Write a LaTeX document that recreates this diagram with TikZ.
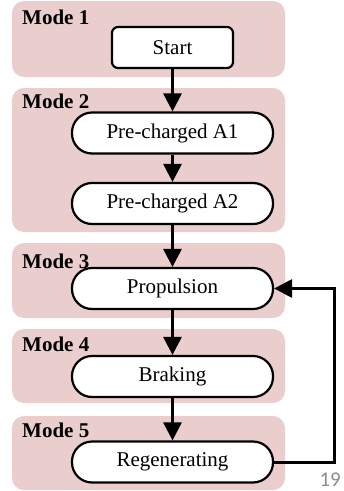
\documentclass[tikz,border=0pt]{standalone}
\usepackage{fontspec}
\setmainfont{Liberation Serif}
\newfontfamily\pagefont{Carlito}
\usepackage{tikz}
\usetikzlibrary{arrows.meta}
\definecolor{modepink}{RGB}{234,205,205}
\definecolor{pagegray}{RGB}{140,140,140}

\begin{document}
\begin{tikzpicture}[x=1pt,y=-1pt,every node/.style = {font=\fontsize{21}{25}\selectfont},
					>={Triangle[length=18pt,width=18pt]}]

\tikzstyle{mode_box} = [fill=modepink, rounded corners=12pt]
\tikzstyle{mode_label} = [anchor=base west, inner sep=0pt, font=\fontsize{21}{25}\selectfont\bfseries]
\tikzstyle{state} = [draw, line width=2.2pt, fill=white, minimum height=41pt, minimum width=201pt, rounded corners=20pt, inner sep=0pt]
\tikzstyle{flow} = [->, line width=3pt]

\useasboundingbox (0,0) rectangle (344,491);

% mode panels
\fill[mode_box] (12,1) rectangle (285,77);
\fill[mode_box] (12,88) rectangle (285,232);
\fill[mode_box] (12,243) rectangle (285,318);
\fill[mode_box] (12,329) rectangle (285,403);
\fill[mode_box] (12,416) rectangle (285,490);

\node[mode_label] (m1) at (22,24) {Mode 1};
\node[mode_label] (m2) at (22,108) {Mode 2};
\node[mode_label] (m3) at (22,268) {Mode 3};
\node[mode_label] (m4) at (22,351) {Mode 4};
\node[mode_label] (m5) at (22,437) {Mode 5};

% states
\node[state, minimum width=121pt, rounded corners=6pt] (start) at (172.5,47.5) {Start};
\node[state] (pca1) at (172.5,133) {Pre-charged A1};
\node[state] (pca2) at (172.5,203.5) {Pre-charged A2};
\node[state] (prop) at (172.5,288.5) {Propulsion};
\node[state] (brake) at (172.5,376.5) {Braking};
\node[state] (regen) at (172.5,462) {Regenerating};

\draw[flow] (start) -- (pca1);
\draw[flow] (pca1) -- (pca2);
\draw[flow] (pca2) -- (prop);
\draw[flow] (prop) -- (brake);
\draw[flow] (brake) -- (regen);
\draw[flow] (regen.east) -- ++(60,0) |- (prop.east);

\node[anchor=base east, inner sep=0pt, text=pagegray, font=\fontsize{21}{25}\pagefont] (pagenum) at (341,486) {19};
\end{tikzpicture}
\end{document}
